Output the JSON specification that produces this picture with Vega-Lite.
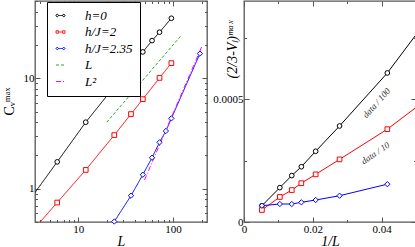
{
  "$schema": "https://vega.github.io/schema/vega-lite/v6.json",
  "padding": {"left": 1, "top": -1, "right": 0, "bottom": 0},
  "spacing": 37,
  "bounds": "flush",
  "datasets": {
    "left": [
      {"s": "h=0", "L": 3, "C": 0.77},
      {"s": "h=0", "L": 6, "C": 1.75},
      {"s": "h=0", "L": 12, "C": 4.0},
      {"s": "h=0", "L": 24, "C": 8.4},
      {"s": "h=0", "L": 36, "C": 12.9},
      {"s": "h=0", "L": 48, "C": 17.3},
      {"s": "h=0", "L": 60, "C": 21.9},
      {"s": "h=0", "L": 72, "C": 26.1},
      {"s": "h=0", "L": 96, "C": 34.9},
      {"s": "h/J=2", "L": 3, "C": 0.38},
      {"s": "h/J=2", "L": 6, "C": 0.75},
      {"s": "h/J=2", "L": 12, "C": 1.48},
      {"s": "h/J=2", "L": 24, "C": 3.06},
      {"s": "h/J=2", "L": 36, "C": 4.74},
      {"s": "h/J=2", "L": 48, "C": 6.47},
      {"s": "h/J=2", "L": 72, "C": 10.07},
      {"s": "h/J=2", "L": 96, "C": 13.7},
      {"s": "h/J=2.35", "L": 24, "C": 0.505},
      {"s": "h/J=2.35", "L": 36, "C": 0.865},
      {"s": "h/J=2.35", "L": 48, "C": 1.34},
      {"s": "h/J=2.35", "L": 60, "C": 1.91},
      {"s": "h/J=2.35", "L": 72, "C": 2.63},
      {"s": "h/J=2.35", "L": 84, "C": 3.33},
      {"s": "h/J=2.35", "L": 96, "C": 4.33},
      {"s": "h/J=2.35", "L": 192, "C": 16.7},
      {"s": "L", "L": 20, "C": 4.0},
      {"s": "L", "L": 120, "C": 24.0},
      {"s": "L²", "L": 50, "C": 1.2},
      {"s": "L²", "L": 200, "C": 19.2}
    ],
    "right": [
      {"s": "h=0", "x": 0.005208, "y": 0.0000664},
      {"s": "h=0", "x": 0.010417, "y": 0.00014},
      {"s": "h=0", "x": 0.013889, "y": 0.000189},
      {"s": "h=0", "x": 0.016667, "y": 0.000225},
      {"s": "h=0", "x": 0.020833, "y": 0.000288},
      {"s": "h=0", "x": 0.027778, "y": 0.000391},
      {"s": "h=0", "x": 0.041667, "y": 0.000607},
      {"s": "h=0", "x": 0.083333, "y": 0.001385},
      {"s": "h/J=2", "x": 0.005208, "y": 0.0000489},
      {"s": "h/J=2", "x": 0.010417, "y": 0.000102},
      {"s": "h/J=2", "x": 0.013889, "y": 0.00013},
      {"s": "h/J=2", "x": 0.016667, "y": 0.000158},
      {"s": "h/J=2", "x": 0.020833, "y": 0.000194},
      {"s": "h/J=2", "x": 0.027778, "y": 0.000255},
      {"s": "h/J=2", "x": 0.041667, "y": 0.000378},
      {"s": "h/J=2", "x": 0.083333, "y": 0.00082},
      {"s": "h/J=2.35", "x": 0.005208, "y": 0.0000664},
      {"s": "h/J=2.35", "x": 0.010417, "y": 0.0000733},
      {"s": "h/J=2.35", "x": 0.013889, "y": 0.0000733},
      {"s": "h/J=2.35", "x": 0.016667, "y": 0.0000802},
      {"s": "h/J=2.35", "x": 0.020833, "y": 0.0000896},
      {"s": "h/J=2.35", "x": 0.027778, "y": 0.000107},
      {"s": "h/J=2.35", "x": 0.041667, "y": 0.000154}
    ],
    "notes": [
      {"t": "data / 100", "x": 0.0385, "y": 0.000485},
      {"t": "data / 10", "x": 0.0382, "y": 0.000281}
    ]
  },
  "hconcat": [
    {
      "width": 172,
      "height": 221,
      "data": {"name": "left"},
      "layer": [
        {
          "mark": {"type": "point", "opacity": 0, "filled": false},
          "encoding": {
            "x": {"field": "L", "type": "quantitative", "scale": {"type": "log", "domain": [3.5, 228], "nice": false},
              "axis": {"orient": "top", "values": [4,5,6,7,8,9,10,20,30,40,50,60,70,80,90,100,200], "labels": false, "title": null,
                "tickSize": {"condition": {"test": "datum.value == 10 || datum.value == 100", "value": -5}, "value": -2.5}}},
            "y": {"field": "C", "type": "quantitative", "scale": {"type": "log", "domain": [0.5, 50], "nice": false},
              "axis": {"orient": "right", "values": [0.5,0.6,0.7,0.8,0.9,1,2,3,4,5,6,7,8,9,10,20,30,40,50], "labels": false, "title": null,
                "tickSize": {"condition": {"test": "datum.value == 1 || datum.value == 10", "value": -5}, "value": -2.5}}},
            "color": {"field": "s", "type": "nominal",
              "scale": {"domain": ["h=0", "h/J=2", "h/J=2.35", "L", "L²"], "range": ["#000000", "#ff0000", "#0000ff", "#22aa22", "#ff00ff"]},
              "legend": {"title": null, "orient": "none", "legendX": 12, "legendY": 1, "fillColor": "white", "strokeColor": "black", "padding": 7,
                "symbolSize": 81, "symbolStrokeWidth": 1, "symbolOpacity": 1, "labelFont": "Liberation Serif", "labelFontStyle": "italic",
                "labelFontSize": 13, "labelOffset": 18, "rowPadding": 2.5, "labelColor": "black"}},
            "shape": {"field": "s", "type": "nominal",
              "scale": {"domain": ["h=0", "h/J=2", "h/J=2.35", "L", "L²"], "range": [
                "M-1,0a0.27,0.27 0 1,0 0.54,0a0.27,0.27 0 1,0 -0.54,0M-0.46,0L0.46,0M0.46,0a0.27,0.27 0 1,0 0.54,0a0.27,0.27 0 1,0 -0.54,0",
                "M-1,-0.27h0.54v0.54h-0.54zM-0.46,0L0.46,0M0.46,-0.27h0.54v0.54h-0.54z",
                "M-1,0L-0.73,-0.32L-0.46,0L-0.73,0.32zM-0.46,0L0.46,0M0.46,0L0.73,-0.32L1,0L0.73,0.32z",
                "M-1,0L1,0",
                "M-1,0L1,0"]},
              "legend": {"title": null, "orient": "none", "legendX": 12, "legendY": 1, "fillColor": "white", "strokeColor": "black", "padding": 7,
                "symbolSize": 81, "symbolStrokeWidth": 1, "symbolOpacity": 1, "labelFont": "Liberation Serif", "labelFontStyle": "italic",
                "labelFontSize": 13, "labelOffset": 18, "rowPadding": 2.5, "labelColor": "black"}},
            "strokeDash": {"field": "s", "type": "nominal",
              "scale": {"domain": ["h=0", "h/J=2", "h/J=2.35", "L", "L²"], "range": [[1,0],[1,0],[1,0],[3,2],[5,2,1,2]]},
              "legend": {"title": null, "orient": "none", "legendX": 12, "legendY": 1, "fillColor": "white", "strokeColor": "black", "padding": 7,
                "symbolSize": 81, "symbolStrokeWidth": 1, "symbolOpacity": 1, "labelFont": "Liberation Serif", "labelFontStyle": "italic",
                "labelFontSize": 13, "labelOffset": 18, "rowPadding": 2.5, "labelColor": "black"}}
          }
        },
        {
          "mark": {"type": "line", "clip": true, "strokeWidth": 1},
          "encoding": {
            "x": {"field": "L", "type": "quantitative",
              "axis": {"orient": "bottom", "values": [4,5,6,7,8,9,10,20,30,40,50,60,70,80,90,100,200], "format": "~g",
                "labelExpr": "datum.value == 10 || datum.value == 100 ? datum.label : ''",
                "labelFontSize": {"condition": {"test": "datum.value == 10 || datum.value == 100", "value": 11}, "value": 0},
                "tickSize": {"condition": {"test": "datum.value == 10 || datum.value == 100", "value": -5}, "value": -2.5},
                "labelPadding": 6, "title": "L", "titleFontStyle": "italic", "titleBaseline": "middle", "titleY": 19}},
            "y": {"field": "C", "type": "quantitative",
              "axis": {"orient": "left", "values": [0.5,0.6,0.7,0.8,0.9,1,2,3,4,5,6,7,8,9,10,20,30,40,50], "format": "~g",
                "labelExpr": "datum.value == 1 || datum.value == 10 ? datum.label : ''",
                "labelFontSize": {"condition": {"test": "datum.value == 1 || datum.value == 10", "value": 11}, "value": 0},
                "tickSize": {"condition": {"test": "datum.value == 1 || datum.value == 10", "value": -5}, "value": -2.5},
                "labelPadding": 6, "title": "Cᵥᵐᵃˣ", "titleBaseline": "middle", "titleY": 100, "titleX": -26}},
            "detail": {"field": "s"},
            "color": {"field": "s", "type": "nominal", "legend": null},
            "strokeDash": {"field": "s", "type": "nominal", "legend": null}
          }
        },
        {
          "transform": [{"filter": "datum.s == 'h=0' && datum.L > 4"}],
          "mark": {"type": "point", "shape": "circle", "filled": false, "fill": "white", "size": 22, "strokeWidth": 1, "opacity": 1},
          "encoding": {
            "x": {"field": "L", "type": "quantitative", "axis": null},
            "y": {"field": "C", "type": "quantitative", "axis": null},
            "color": {"field": "s", "type": "nominal", "legend": null}
          }
        },
        {
          "transform": [{"filter": "datum.s == 'h/J=2' && datum.L > 4"}],
          "mark": {"type": "point", "shape": "square", "filled": false, "fill": "white", "size": 22, "strokeWidth": 1, "opacity": 1},
          "encoding": {
            "x": {"field": "L", "type": "quantitative", "axis": null},
            "y": {"field": "C", "type": "quantitative", "axis": null},
            "color": {"field": "s", "type": "nominal", "legend": null}
          }
        },
        {
          "transform": [{"filter": "datum.s == 'h/J=2.35' && datum.L > 4"}],
          "mark": {"type": "point", "shape": "diamond", "filled": false, "fill": "white", "size": 28, "strokeWidth": 1, "opacity": 1},
          "encoding": {
            "x": {"field": "L", "type": "quantitative", "axis": null},
            "y": {"field": "C", "type": "quantitative", "axis": null},
            "color": {"field": "s", "type": "nominal", "legend": null}
          }
        }
      ],
      "resolve": {"axis": {"x": "independent", "y": "independent"}}
    },
    {
      "width": 172,
      "height": 221,
      "layer": [
        {
          "data": {"name": "right"},
          "mark": {"type": "line", "clip": true, "strokeWidth": 1},
          "encoding": {
            "x": {"field": "x", "type": "quantitative", "scale": {"domain": [0, 0.05], "nice": false, "zero": false},
              "axis": {"orient": "bottom", "values": [0, 0.01, 0.02, 0.03, 0.04, 0.05], "format": "~g",
                "labelExpr": "datum.value == 0 || datum.value == 0.02 || datum.value == 0.04 ? datum.label : ''",
                "labelFontSize": {"condition": {"test": "datum.value == 0 || datum.value == 0.02 || datum.value == 0.04", "value": 11}, "value": 0},
                "tickSize": {"condition": {"test": "datum.value == 0 || datum.value == 0.02 || datum.value == 0.04", "value": -5}, "value": -2.5},
                "labelPadding": 6, "title": "1/L", "titleFontStyle": "italic", "titleBaseline": "middle", "titleY": 19}},
            "y": {"field": "y", "type": "quantitative", "scale": {"domain": [0, 0.0009], "nice": false},
              "axis": {"orient": "left", "values": [0, 0.00025, 0.0005, 0.00075], "format": "~g",
                "labelExpr": "datum.value == 0 || datum.value == 0.0005 ? datum.label : ''",
                "labelFontSize": {"condition": {"test": "datum.value == 0 || datum.value == 0.0005", "value": 11}, "value": 0},
                "tickSize": {"condition": {"test": "datum.value == 0 || datum.value == 0.0005", "value": -5}, "value": -2.5},
                "labelPadding": 6, "title": "(2/3-Vₗ)ᵐᵃˣ", "titleFontStyle": "italic", "titleBaseline": "middle", "titleY": 48, "titleX": -12}},
            "color": {"field": "s", "type": "nominal", "legend": null}
          }
        },
        {
          "data": {"name": "right"},
          "transform": [{"filter": "datum.s == 'h=0' && datum.x < 0.05"}],
          "mark": {"type": "point", "shape": "circle", "filled": false, "fill": "white", "size": 22, "strokeWidth": 1, "opacity": 1},
          "encoding": {
            "x": {"field": "x", "type": "quantitative", "axis": null},
            "y": {"field": "y", "type": "quantitative", "axis": null},
            "color": {"field": "s", "type": "nominal", "legend": null}
          }
        },
        {
          "data": {"name": "right"},
          "transform": [{"filter": "datum.s == 'h/J=2' && datum.x < 0.05"}],
          "mark": {"type": "point", "shape": "square", "filled": false, "fill": "white", "size": 22, "strokeWidth": 1, "opacity": 1},
          "encoding": {
            "x": {"field": "x", "type": "quantitative", "axis": null},
            "y": {"field": "y", "type": "quantitative", "axis": null},
            "color": {"field": "s", "type": "nominal", "legend": null}
          }
        },
        {
          "data": {"name": "right"},
          "transform": [{"filter": "datum.s == 'h/J=2.35' && datum.x < 0.05"}],
          "mark": {"type": "point", "shape": "diamond", "filled": false, "fill": "white", "size": 28, "strokeWidth": 1, "opacity": 1},
          "encoding": {
            "x": {"field": "x", "type": "quantitative", "axis": null},
            "y": {"field": "y", "type": "quantitative", "axis": null},
            "color": {"field": "s", "type": "nominal", "legend": null}
          }
        },
        {
          "data": {"name": "notes"},
          "transform": [{"filter": "datum.t == 'data / 100'"}],
          "mark": {"type": "text", "angle": 312, "font": "Liberation Serif", "fontStyle": "italic", "fontSize": 9, "color": "#333333"},
          "encoding": {
            "x": {"field": "x", "type": "quantitative",
              "axis": {"orient": "top", "values": [0, 0.01, 0.02, 0.03, 0.04, 0.05], "labels": false, "title": null,
                "tickSize": {"condition": {"test": "datum.value == 0 || datum.value == 0.02 || datum.value == 0.04", "value": -5}, "value": -2.5}}},
            "y": {"field": "y", "type": "quantitative",
              "axis": {"orient": "right", "values": [0, 0.00025, 0.0005, 0.00075], "labels": false, "title": null,
                "tickSize": {"condition": {"test": "datum.value == 0 || datum.value == 0.0005", "value": -5}, "value": -2.5}}},
            "text": {"field": "t"}
          }
        },
        {
          "data": {"name": "notes"},
          "transform": [{"filter": "datum.t == 'data / 10'"}],
          "mark": {"type": "text", "angle": 326, "font": "Liberation Serif", "fontStyle": "italic", "fontSize": 9, "color": "#333333"},
          "encoding": {
            "x": {"field": "x", "type": "quantitative", "axis": null},
            "y": {"field": "y", "type": "quantitative", "axis": null},
            "text": {"field": "t"}
          }
        }
      ],
      "resolve": {"axis": {"x": "independent", "y": "independent"}}
    }
  ],
  "config": {
    "view": {"stroke": "#555555", "strokeWidth": 1.3},
    "font": "Liberation Serif",
    "axis": {"domain": false, "grid": false, "tickColor": "#555555", "tickWidth": 1,
      "labelFont": "Liberation Serif", "labelFontSize": 11, "labelColor": "black",
      "titleFont": "Liberation Serif", "titleFontWeight": "normal", "titleFontSize": 14, "titleColor": "black",
      "labelOverlap": false, "labelFlush": false}
  }
}
